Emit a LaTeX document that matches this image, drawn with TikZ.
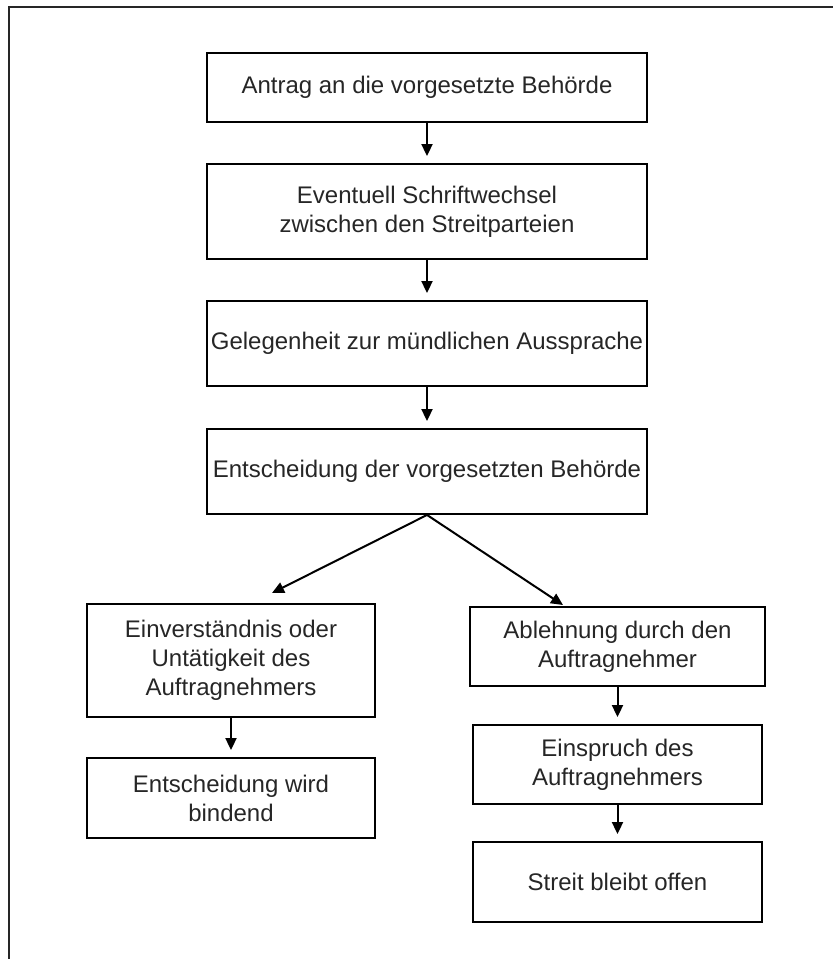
\documentclass[tikz,border=0pt]{standalone}
\usepackage{fontspec}
\setmainfont{Liberation Sans}
\usetikzlibrary{arrows.meta}
\definecolor{ink}{HTML}{262626}
\begin{document}
\begin{tikzpicture}[x=1pt,y=-1pt,
  stepbox/.style={draw=black, line width=1.9pt, rectangle, align=center,
    inner sep=0pt, text=ink, font=\fontsize{24}{29}\selectfont},
  flow/.style={draw=black, line width=2pt,
    -{Triangle[length=12pt,width=11pt]}},
  gap/.style={shorten >=7pt},
]
\useasboundingbox (0,0) rectangle (833,959);
% outer frame (top and left edges)
\draw[line width=2.2pt, draw=ink] (9,959) -- (9,7) -- (833,7);

% main column
\node[stepbox, minimum width=440pt, minimum height=69pt] (antrag) at (427,87.5)
  {Antrag an die vorgesetzte Behörde};
\node[stepbox, minimum width=440pt, minimum height=95pt] (schrift) at (427,211.5)
  {Eventuell Schriftwechsel\\zwischen den Streitparteien};
\node[stepbox, minimum width=440pt, minimum height=85pt] (aussprache) at (427,343.5)
  {Gelegenheit zur mündlichen Aussprache};
\node[stepbox, minimum width=440pt, minimum height=85pt] (entscheid) at (427,471.5)
  {Entscheidung der vorgesetzten Behörde};

% left branch
\node[stepbox, minimum width=288pt, minimum height=113pt] (einverst) at (231,660.5)
  {Einverständnis oder\\Untätigkeit des\\Auftragnehmers};
\node[stepbox, minimum width=288pt, minimum height=80pt] (bindend) at (231,798)
  {Entscheidung wird\\bindend};

% right branch
\node[stepbox, minimum width=295pt, minimum height=79pt] (ablehn) at (617.5,646.5)
  {Ablehnung durch den\\Auftragnehmer};
\node[stepbox, minimum width=289pt, minimum height=79pt] (einspruch) at (617.5,764.5)
  {Einspruch des\\Auftragnehmers};
\node[stepbox, minimum width=289pt, minimum height=80pt] (offen) at (617.5,882)
  {Streit bleibt offen};

% connectors
\draw[flow, gap] (antrag) -- (schrift);
\draw[flow, gap] (schrift) -- (aussprache);
\draw[flow, gap] (aussprache) -- (entscheid);

\coordinate (lefttip) at (272,593);
\coordinate (righttip) at (563,605);
\draw[flow] (entscheid.south) -- (lefttip);
\draw[flow] (entscheid.south) -- (righttip);

\draw[flow, gap] (einverst) -- (bindend);
\draw[flow, gap] (ablehn) -- (einspruch);
\draw[flow, gap] (einspruch) -- (offen);
\end{tikzpicture}
\end{document}
